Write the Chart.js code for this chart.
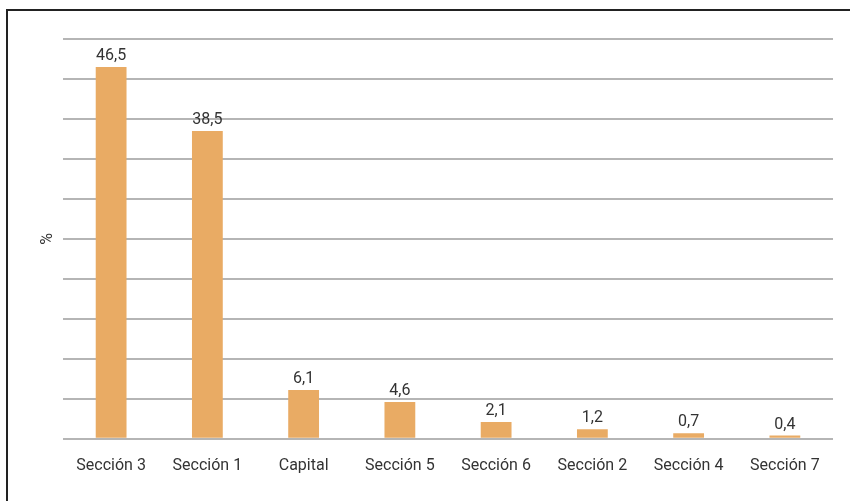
<!DOCTYPE html>
<html>
<head>
<meta charset="utf-8">
<script src="https://cdn.jsdelivr.net/npm/chart.js@4/dist/chart.umd.min.js"></script>
<style>
html,body{margin:0;padding:0;background:#fff;}
#wrap{position:absolute;left:0;top:0;width:850px;height:501px;}
#frame{position:absolute;left:6px;top:9px;width:900px;height:600px;border-left:2px solid #222;border-top:2px solid #222;box-sizing:border-box;pointer-events:none;}
</style>
</head>
<body>
<div id="wrap"><canvas id="c" width="850" height="501"></canvas></div>
<div id="frame"></div>
<script>
const categories = ["Sección 3","Sección 1","Capital","Sección 5","Sección 6","Sección 2","Sección 4","Sección 7"];
const values = [46.5, 38.5, 6.1, 4.6, 2.1, 1.2, 0.7, 0.4];
const valueLabels = ["46,5","38,5","6,1","4,6","2,1","1,2","0,7","0,4"];
const yTitle = "%";

const FONT = "'Roboto',sans-serif";

const labelPlugin = {
  id: 'valLabels',
  afterDatasetsDraw(chart){
    const ctx = chart.ctx;
    const meta = chart.getDatasetMeta(0);
    ctx.save();
    ctx.font = "16px " + FONT;
    ctx.fillStyle = "#333";
    ctx.textAlign = "center";
    ctx.textBaseline = "bottom";
    meta.data.forEach((bar, i) => {
      ctx.fillText(valueLabels[i], bar.x, bar.y - 3);
    });
    ctx.restore();
  }
};

new Chart(document.getElementById('c'), {
  type: 'bar',
  data: {
    labels: categories,
    datasets: [{
      data: values,
      backgroundColor: '#E9AB64',
      barPercentage: 0.32,
      categoryPercentage: 1.0
    }]
  },
  options: {
    responsive: false,
    animation: false,
    devicePixelRatio: 1,
    layout: { padding: { left: 0, right: 17, top: 39, bottom: 7 } },
    plugins: { legend: { display: false }, tooltip: { enabled: false } },
    scales: {
      x: {
        grid: { display: false, drawTicks: false },
        border: { display: false },
        ticks: { color: '#333', font: { family: FONT, size: 16 }, padding: 18, maxRotation: 0 }
      },
      y: {
        min: 0, max: 50,
        ticks: { display: false, stepSize: 5 },
        grid: { color: '#b5b5b5', lineWidth: 2, drawTicks: false },
        border: { display: false },
        title: { display: true, text: yTitle, color: '#333', font: { family: FONT, size: 16 }, padding: { top: 38, bottom: 0 } },
        afterFit(s){ s.width = 63; }
      }
    }
  },
  plugins: [labelPlugin]
});
</script>
</body>
</html>
